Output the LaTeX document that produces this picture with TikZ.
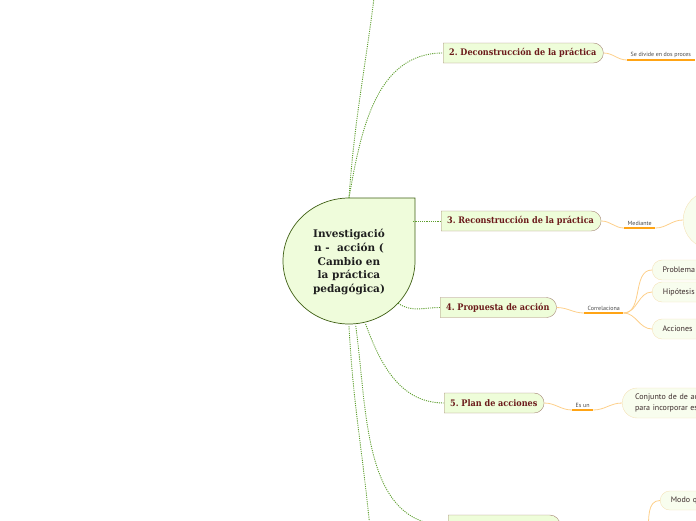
\documentclass[tikz,border=0pt]{standalone}
\usepackage{fontspec}
\setmainfont{DejaVu Serif}
\newfontfamily\topicfont{DejaVu Serif}[FakeStretch=0.9]
\newfontfamily\leaffont{PT Sans}
\usetikzlibrary{shapes.geometric, shapes.misc, positioning, calc}
\definecolor{centrefill}{HTML}{EFFCDB}
\definecolor{centreline}{HTML}{3F5F14}
\definecolor{topicfill}{HTML}{EEFDD9}
\definecolor{topicline}{HTML}{A48474}
\definecolor{topictext}{HTML}{6B1A1A}
\definecolor{branchgreen}{HTML}{5E9E2E}
\definecolor{leaffill}{HTML}{F8FDEE}
\definecolor{leafline}{HTML}{F5E2B8}
\definecolor{leaftext}{HTML}{3B2B2B}
\definecolor{twigorange}{HTML}{FDCF8A}
\definecolor{ulineorange}{HTML}{FFA415}
\tikzset{
	centre/.style={circle, minimum size=128pt, align=center, text=black!88, font=\bfseries\fontsize{10.5}{13.8}\selectfont},
	topic/.style={rounded rectangle, rounded rectangle west arc=none, draw=topicline, fill=topicfill, text=topictext, font=\topicfont\bfseries\fontsize{9}{10}\selectfont, minimum height=20pt, inner xsep=6pt, anchor=west},
	leaf/.style={rounded rectangle, rounded rectangle east arc=none, draw=leafline, fill=leaffill, text=leaftext, font=\leaffont\fontsize{8}{10.5}\selectfont, minimum height=20pt, inner xsep=10pt, text width=60pt, align=left, anchor=west},
	lab/.style={anchor=south west, inner xsep=3.5pt, inner ysep=2.5pt, text=black!72, font=\leaffont\fontsize{6}{7}\selectfont},
	branch/.style={draw=branchgreen, line width=0.9pt, dash pattern=on 1.1pt off 1.1pt},
	twig/.style={draw=twigorange, line width=0.8pt},
	uline/.style={draw=ulineorange, line width=1.8pt}
}
\frenchspacing
\begin{document}
\begin{tikzpicture}[x=1pt, y=-1pt]
	\useasboundingbox (0,0) rectangle (696,520);
	\clip (0,0) rectangle (696,520);

	\path[fill=centrefill, draw=centreline, line width=0.7pt] (349,198) -- (415,198) -- (415,261) arc[start angle=0, end angle=270, x radius=66, y radius=63] -- cycle;
	\node[centre] (centre) at (349,262) {Investigació\\n -\ \ acción (\\Cambio en\\la práctica\\pedagógica)};

	\coordinate (topic1) at (375,-10);
	\node[topic] (deco) at (443,53) {2. Deconstrucción de la práctica};
	\node[topic] (reco) at (441,221) {3. Reconstrucción de la práctica};
	\node[topic] (prop) at (440,307.5) {4. Propuesta de acción};
	\node[topic] (plan) at (444,403) {5. Plan de acciones};
	\node[topic, minimum width=124pt, minimum height=21pt] (topic6) at (448,525.5) {};
	\coordinate (topic7) at (371,540);

	\draw[branch] (centre.north) to[out=86, in=-97] (topic1);
	\draw[branch] (centre.north) to[out=80, in=180] (deco.west);
	\draw[branch] (centre.east |- reco.west) -- (reco.west);
	\draw[branch] (centre.-40) to[out=-35, in=180] (prop.west);
	\draw[branch] (centre.-75) to[out=-70, in=180] (plan.west);
	\draw[branch] (centre.-84) to[out=-82, in=180] (topic6.west);
	\draw[branch] (centre.-90) to[out=-87, in=95] (topic7);

	\node[lab] (divide) at (627,60) {Se divide en dos proces};
	\draw[twig] (deco.east) to[out=0, in=180] (divide.south west);
	\draw[uline] (divide.south west) -- (divide.south east);

	\node[lab] (mediante) at (624,228) {Mediante};
	\node[circle, draw=leafline, fill=leaffill, minimum size=58pt, anchor=west] (idea) at (683,220) {};
	\draw[twig] (reco.east) to[out=0, in=180] (mediante.south west);
	\draw[uline] (mediante.south west) -- (mediante.south east);
	\draw[twig] (mediante.south east) to[out=0, in=180] (idea.west);

	\node[lab] (correl) at (584,313) {Correlaciona};
	\node[leaf] (problema) at (652,270) {Problema};
	\node[leaf] (hipotesis) at (652,292) {Hipótesis};
	\node[leaf] (acciones) at (652,329) {Acciones};
	\draw[twig] (prop.east) to[out=0, in=180] (correl.south west);
	\draw[uline] (correl.south west) -- (correl.south east);
	\draw[twig] (correl.south east) to[out=0, in=180] (problema.west);
	\draw[twig] (correl.south east) to[out=0, in=180] (hipotesis.west);
	\draw[twig] (correl.south east) to[out=0, in=180] (acciones.west);

	\node[lab] (esun) at (572,410) {Es un};
	\node[leaf, text width=80pt, minimum height=30pt] (conjunto) at (622,403) {Conjunto de de ac\\para incorporar es};
	\draw[twig] (plan.east) to[out=0, in=180] (esun.south west);
	\draw[uline] (esun.south west) -- (esun.south east);
	\draw[twig] (esun.south east) to[out=0, in=180] (conjunto.west);

	\coordinate (modolab) at (648,532);
	\node[leaf, minimum height=19pt] (modo) at (660,500.5) {Modo q};
	\draw[twig] (modolab) to[out=85, in=180] (modo.west);
\end{tikzpicture}
\end{document}
